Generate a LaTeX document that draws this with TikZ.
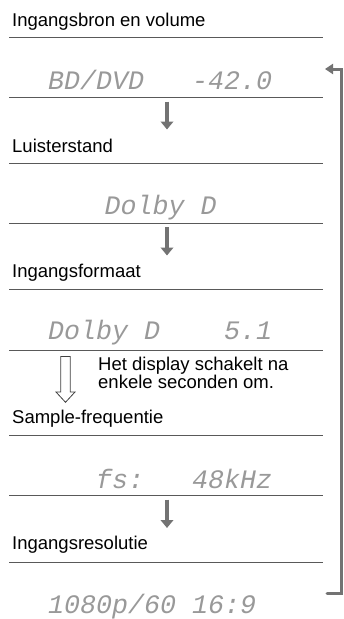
\documentclass[tikz,border=0pt]{standalone}
\usepackage{fontspec}
\setmainfont{Liberation Sans}
\newfontfamily\lcdfont{Liberation Mono}
\usepackage{xcolor}
\usetikzlibrary{arrows.meta,positioning}

\begin{document}
\begin{tikzpicture}[
    x=1pt, y=-1pt,
    head/.style={anchor=base west, inner sep=0pt,
                 font=\fontsize{18.5}{18}\selectfont},
    lcd/.style={anchor=base west, inner sep=0pt, text=black!40,
                font=\lcdfont\itshape\fontsize{26.67}{30}\selectfont},
    note/.style={anchor=base west, inner sep=0pt, align=left,
                 font=\fontsize{18.5}{18}\selectfont},
    rule/.style={draw=black!65, line width=1.3pt},
    nextstep/.style={draw=black!55, line width=4.5pt,
                     -{Triangle[length=8pt,width=12.5pt]}},
    backflow/.style={draw=black!55, line width=3pt, line cap=round,
                     -{Triangle[length=8pt,width=10pt]}},
    hollow/.style={draw=black!75, line width=0.8pt, fill=white},
]
\useasboundingbox (0,0) rectangle (343,619);

% --- headings ---
\node[head] (hsrc)  at (12,26)    {Ingangsbron en volume};
\node[head] (hlis)  at (12,152.7) {Luisterstand};
\node[head] (hfmt)  at (12,277)   {Ingangsformaat};
\node[head] (hfs)   at (12,423.3) {Sample-frequentie};
\node[head] (hres)  at (12,549)   {Ingangsresolutie};

% --- display readouts ---
\node[lcd] (dsrc) at (48,89.5)  {BD/DVD~~~-42.0};
\node[lcd] (dlis) at (104.5,214) {Dolby~D};
\node[lcd] (dfmt) at (48,339)   {Dolby~D~~~~5.1};
\node[lcd] (dfs)  at (96,488)   {fs:~~~48kHz};
\node[lcd] (dres) at (48,613)   {1080p/60~16:9};

% --- rules under headings and readouts ---
\foreach \yy in {37.8,97.7,163.5,223.5,289.3,350.3,435.7,495.7,562.3}
  \draw[rule] (9,\yy) -- (323,\yy);

% --- solid step arrows ---
\coordinate (s1a) at (167,101.5); \coordinate (s1b) at (167,129.5);
\coordinate (s2a) at (167,227.3); \coordinate (s2b) at (167,255.5);
\coordinate (s3a) at (167,499.5); \coordinate (s3b) at (167,528);
\draw[nextstep] (s1a) -- (s1b);
\draw[nextstep] (s2a) -- (s2b);
\draw[nextstep] (s3a) -- (s3b);

% --- automatic switch: hollow arrow and note ---
\draw[hollow] (60.7,356.5) -- (70.3,356.5) -- (70.3,392) -- (75,392)
  -- (65.5,402.3) -- (56,392) -- (60.7,392) -- cycle;
\node[note] (swnote) at (98,388)
  {Het display schakelt na\\enkele seconden om.};

% --- return loop ---
\coordinate (lpin)  at (327,593);
\coordinate (lpbot) at (341.5,593);
\coordinate (lptop) at (341.5,69);
\coordinate (lpout) at (325,69);
\draw[backflow] (lpin) -- (lpbot) -- (lptop) -- (lpout);
\end{tikzpicture}
\end{document}
